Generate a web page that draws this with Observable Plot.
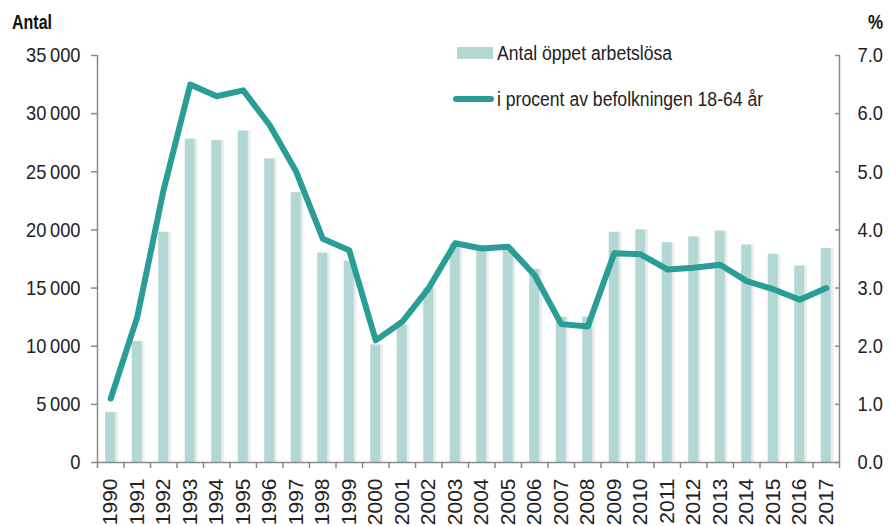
<!DOCTYPE html>
<html>
<head>
<meta charset="utf-8">
<script src="https://cdn.jsdelivr.net/npm/d3@7"></script>
<script src="https://cdn.jsdelivr.net/npm/@observablehq/plot@0.6"></script>
<style>
  html, body { margin: 0; padding: 0; background: #fff; }
  #wrap { position: relative; width: 890px; height: 526px; overflow: hidden; }
  .lbl { position: absolute; font-family: "Liberation Sans", Arial, sans-serif; color: #111; white-space: nowrap; transform-origin: left top; }
  .legend { position: absolute; left: 453px; top: 30px; font-family: "Liberation Sans", Arial, sans-serif; font-size: 20px; color: #222; }
  .legend .row { display: flex; align-items: center; height: 46px; white-space: nowrap; }
  .legend .txt { display: inline-block; transform: scaleX(0.88); transform-origin: left center; }
  .sw-bar { width: 36px; height: 12px; background: #b3d8d4; margin-left: 4px; margin-right: 4px; }
  .sw-line { width: 41px; height: 6px; border-radius: 3px; background: #2a9d96; margin-right: 3px; }
</style>
</head>
<body>
<div id="wrap"></div>
<script>
const years = [1990,1991,1992,1993,1994,1995,1996,1997,1998,1999,2000,2001,2002,2003,2004,2005,2006,2007,2008,2009,2010,2011,2012,2013,2014,2015,2016,2017];
const antal = [4300,10400,19800,27800,27700,28500,26100,23200,18000,17300,10100,11800,15000,18800,18600,18500,16600,12500,12500,19800,20000,18900,19400,19900,18700,17900,16900,18400];
const procent = [1.1,2.5,4.7,6.5,6.3,6.4,5.8,5.0,3.85,3.65,2.1,2.42,3.0,3.77,3.68,3.71,3.22,2.38,2.34,3.6,3.58,3.32,3.35,3.4,3.12,2.98,2.8,3.0];
const leftTicks = [0,5000,10000,15000,20000,25000,30000,35000];
const rightTicks = [0,1,2,3,4,5,6,7];
const legendLabels = ["Antal öppet arbetslösa", "i procent av befolkningen 18-64 år"];

const data = years.map((y, i) => ({year: y, antal: antal[i], pct: procent[i]}));
const ratio = 35000 / 7; // right-axis percent to left-axis count
const boundaries = [years[0] - 0.5, ...years.map(y => y + 0.5)];
const fmtLeft = d => d3.format(",")(d).replace(/,/g, "\u2009");
const axisGrey = "#8a8a8a";

const chart = Plot.plot({
  width: 890,
  height: 526,
  marginLeft: 97,
  marginRight: 51,
  marginTop: 55,
  marginBottom: 64,
  style: {fontFamily: "Liberation Sans, Arial, sans-serif", background: "#fff", color: "#222"},
  x: {type: "linear", domain: [years[0] - 0.5, years[years.length - 1] + 0.5], axis: null, label: null},
  y: {domain: [0, 35000], axis: null, label: null},
  marks: [
    Plot.rectY(data, {x1: d => d.year - 0.16, x2: d => d.year + 0.29, y: "antal", fill: "#ececec"}),
    Plot.rectY(data, {x1: d => d.year - 0.19, x2: d => d.year + 0.19, y: "antal", fill: "#b3d8d4"}),
    Plot.line(data, {x: "year", y: d => d.pct * ratio, stroke: "#2a9d96", strokeWidth: 6, strokeLinejoin: "round", strokeLinecap: "round"}),
    Plot.ruleX([boundaries[0]], {y1: 0, y2: 35000, stroke: axisGrey, strokeWidth: 1.5}),
    Plot.ruleX([boundaries[boundaries.length - 1]], {y1: 0, y2: 35000, stroke: axisGrey, strokeWidth: 1.5}),
    Plot.ruleY([0], {x1: boundaries[0], x2: boundaries[boundaries.length - 1], stroke: axisGrey, strokeWidth: 1.5}),
    Plot.axisY({anchor: "left", label: null, ticks: leftTicks, tickFormat: fmtLeft, tickSize: 6, tickPadding: 11,
      stroke: axisGrey, strokeWidth: 1.5, fill: "#222", fontSize: 21}),
    Plot.axisY({anchor: "right", label: null, ticks: leftTicks, tickSize: 5, dx: -5, text: null, stroke: axisGrey, strokeWidth: 1.5}),
    Plot.axisY({anchor: "right", label: null, ticks: rightTicks.map(v => v * ratio), tickSize: 0, tickPadding: 18,
      tickFormat: d => (d / ratio).toFixed(1), fill: "#222", fontSize: 21}),
    Plot.axisX({anchor: "bottom", label: null, ticks: boundaries, tickSize: 6, text: null, stroke: axisGrey, strokeWidth: 1.5}),
    Plot.axisX({anchor: "bottom", label: null, ticks: years, tickSize: 0, tickPadding: 16, tickRotate: -90,
      tickFormat: d => String(d), fill: "#222", fontSize: 21})
  ]
});

const wrap = document.getElementById("wrap");
wrap.appendChild(chart);

// condense y tick labels to mimic the narrow typeface of the original
chart.querySelectorAll('g[aria-label="y-axis tick label"] text').forEach(t => {
  const w = t.getComputedTextLength();
  t.setAttribute("textLength", (w * 0.87).toFixed(1));
  t.setAttribute("lengthAdjust", "spacingAndGlyphs");
});

const antalLbl = document.createElement("div");
antalLbl.className = "lbl";
antalLbl.style.cssText = "left:12px;top:11px;font-size:20px;font-weight:bold;transform:scaleX(0.8);";
antalLbl.textContent = "Antal";
wrap.appendChild(antalLbl);

const pctLbl = document.createElement("div");
pctLbl.className = "lbl";
pctLbl.style.cssText = "left:868px;top:11px;font-size:20px;font-weight:bold;transform:scaleX(0.85);";
pctLbl.textContent = "%";
wrap.appendChild(pctLbl);

const legend = document.createElement("div");
legend.className = "legend";
legend.innerHTML = `<div class="row"><span class="sw-bar"></span><span class="txt">${legendLabels[0]}</span></div>` +
  `<div class="row"><span class="sw-line"></span><span class="txt">${legendLabels[1]}</span></div>`;
wrap.appendChild(legend);
</script>
</body>
</html>
